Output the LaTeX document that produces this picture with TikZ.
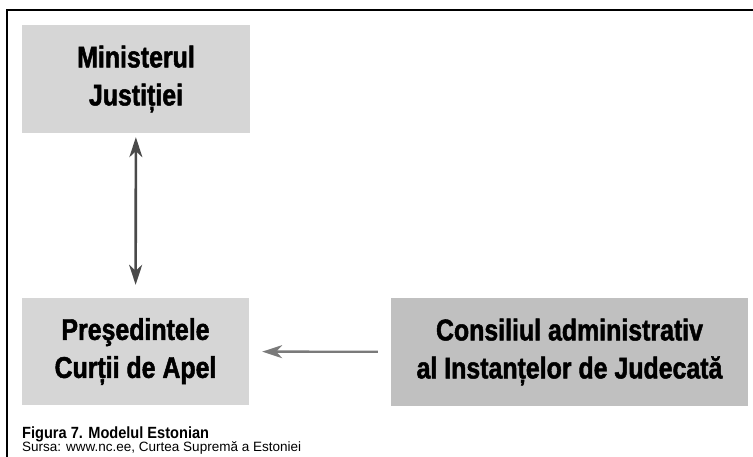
\documentclass[tikz,border=0pt]{standalone}
\usepackage{fontspec}
\setmainfont{Liberation Sans}
\newfontfamily\condfont[FakeStretch=0.83,FakeBold=1.6]{Liberation Sans}
\newfontfamily\capfont[FakeStretch=0.9]{Liberation Sans}
\usetikzlibrary{arrows.meta}

\definecolor{boxlight}{HTML}{D6D6D6}
\definecolor{boxdark}{HTML}{C0C0C0}
\definecolor{arrowdark}{HTML}{4A4A4A}
\definecolor{arrowlight}{HTML}{7A7A7A}

\begin{document}
\begin{tikzpicture}
      [x=1pt,y=-1pt,inner sep=0pt,
       >={Stealth[length=20pt,width=13pt,inset=6pt]},
       organ/.style={rectangle,fill=boxlight,align=center,
         font=\condfont\bfseries\fontsize{30}{38}\selectfont},
       council/.style={organ,fill=boxdark},
       caption/.style={anchor=base west,inner sep=0pt,
         font=\capfont\bfseries\fontsize{16.2}{18}\selectfont},
       source/.style={anchor=base west,inner sep=0pt,
         font=\fontsize{13.5}{15}\selectfont}]
      \useasboundingbox (0,0) rectangle (753,457);
      % frame
      \draw[line width=2pt] (7,457) -- (7,10.5) -- (753,10.5);

      \node (MJ) at (136,79) [organ,minimum width=228pt,minimum height=108pt]
        {Ministerul\\Justiției};
      \node (PCA) at (135.5,351.5) [organ,minimum width=227pt,minimum height=107pt]
        {Preşedintele\\Curții de Apel};
      \node (CA) at (569.5,352) [council,minimum width=357pt,minimum height=108pt]
        {Consiliul administrativ\\al Instanțelor de Judecată};

      \draw[<->, arrowdark, line width=2.6pt,
        shorten <=4pt, shorten >=13pt] (MJ) -- (PCA);
      \draw[->, arrowlight, line width=2.4pt,
        shorten <=13pt, shorten >=13pt] (CA) -- (PCA);

      \node (fig) at (22,438) [caption] {Figura 7. Modelul Estonian};
      \node (src) at (22,451) [source] {Sursa: www.nc.ee, Curtea Supremă a Estoniei};
      \end{tikzpicture}
\end{document}
